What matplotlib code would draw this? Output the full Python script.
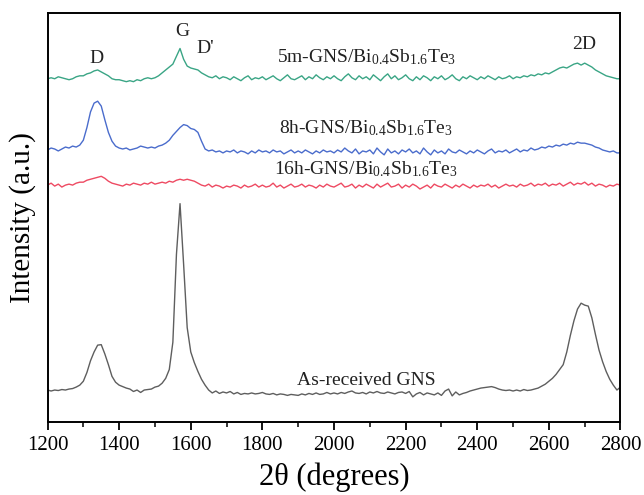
import numpy as np
import matplotlib
matplotlib.use("Agg")
import matplotlib.pyplot as plt
from matplotlib.ticker import MultipleLocator

plt.rcParams["font.family"] = ["Liberation Serif", "DejaVu Serif"]
plt.rcParams["mathtext.fontset"] = "custom"
plt.rcParams["mathtext.rm"] = "Liberation Serif"
plt.rcParams["mathtext.it"] = "Liberation Serif:italic"

# Raman shift grid (labelled 2θ on the axis), 10-unit spacing
shift = np.arange(1200, 2801, 10)

as_received = [
    21, 20, 21, 20.5, 21.5, 21, 22, 22.5, 24, 26,
    30, 39, 51, 60, 67, 67.5, 58, 47, 35, 29,
    26, 24.5, 23, 22, 19.5, 21, 18.5, 21, 21.5, 22,
    24, 25, 28, 33, 42, 70, 160, 212, 150, 85,
    60, 49, 40, 32, 26, 21, 18, 20, 17.5, 19,
    18, 19.5, 17, 18.5, 16.5, 17.5, 17, 18, 17, 17.5,
    18.5, 17, 16.5, 17.5, 16, 17, 16.5, 15.5, 16.5, 16,
    15.5, 17, 16, 17.5, 16.5, 18, 16.5, 17, 18.5, 17,
    18, 17, 18.5, 17.5, 19, 20, 18, 17.5, 18.5, 17,
    19, 18, 19.5, 18, 17.5, 19, 18, 17, 18.5, 19,
    17.5, 19.5, 14, 17, 18.5, 16, 18, 17, 16, 18,
    15.5, 20, 22, 15, 19, 16, 17.5, 18.5, 20, 21,
    22, 23, 23.5, 24, 24.5, 23.5, 22, 21, 20.5, 21,
    20, 21, 20, 21.5, 20.5, 21, 22, 23, 25, 27,
    30, 33, 37, 42, 47, 60, 77, 92, 104, 110,
    108, 107, 95, 78, 62, 50, 40, 32, 26, 21,
    24,
]

h16 = [
    231, 233, 230, 232, 229, 231, 232, 231, 233, 234,
    234, 236, 237, 238, 239, 240, 238, 235, 233, 232,
    231, 230, 232, 231, 233, 232, 231, 233, 232, 234,
    232, 233, 234, 233, 235, 234, 236, 237, 236, 237,
    236, 235, 233, 231, 230, 232, 229, 231, 230, 228,
    230, 229, 231, 230, 228, 231, 229, 230, 232, 229,
    231, 229, 230, 233, 229, 231, 228, 230, 232, 229,
    230, 232, 229, 231, 230, 228, 231, 229, 232, 230,
    229, 231, 233, 229, 230, 232, 228, 231, 229, 232,
    230, 228, 232, 229, 231, 233, 229, 230, 232, 228,
    231, 229, 232, 230, 227, 229, 231, 228, 232, 230,
    229, 232, 230, 228, 231, 229, 232, 230, 228, 231,
    229, 231, 230, 232, 229, 231, 228, 230, 232, 230,
    231, 229, 232, 230, 231, 233, 230, 232, 231, 233,
    230, 232, 231, 233, 230, 232, 234, 231, 233, 232,
    234, 231, 233, 230, 232, 231, 229, 231, 230, 232,
    231,
]

h8 = [
    267, 269, 268, 266, 268, 270, 269, 271, 270, 272,
    277, 290, 306, 315, 317, 312, 298, 285, 276, 271,
    269, 268, 269, 267, 268, 269, 271, 270, 269, 270,
    269, 271, 272, 274, 277, 282, 286, 290, 293, 292,
    289, 288, 285, 276, 268, 266, 267, 265, 266, 264,
    266, 265, 267, 264, 266, 265, 263, 266, 264, 267,
    265, 266, 264, 267, 265, 266, 263, 265, 267, 264,
    266, 264, 267, 265, 263, 266, 264, 267, 265, 266,
    264, 267, 265, 269, 266, 264, 268, 263, 266, 265,
    267, 263, 269, 265, 262, 268, 264, 266, 263, 267,
    265, 268, 264, 266, 263, 269, 265, 262, 267, 264,
    266, 263, 268, 265, 264, 267, 265, 263, 266, 264,
    267, 265, 263, 266, 268, 264, 266, 265, 267, 264,
    266, 268, 265, 267, 266, 269, 267, 268, 270, 269,
    271, 270, 272, 271, 273, 272, 274, 273, 275, 274,
    274, 273, 272, 270, 269, 267, 266, 265, 266, 264,
    264,
]

m5 = [
    340, 341, 340, 342, 341, 340, 339, 340, 342, 343,
    343, 345, 346, 348, 349, 347, 345, 343, 340, 339,
    339, 338, 337, 338, 337, 339, 338, 340, 341, 340,
    341, 343, 346, 349, 352, 355, 363, 371, 360, 353,
    351, 350, 349, 346, 344, 342, 341, 343, 340, 342,
    341, 339, 342, 340, 338, 341, 343, 339, 341, 340,
    342, 339, 341, 343, 340, 338, 341, 344, 340, 339,
    341, 343, 339, 342, 340, 344, 341, 339, 342, 340,
    343, 340, 338, 342, 345, 341, 339, 343, 340, 342,
    339, 344, 341, 338, 342, 345, 340, 343, 339, 341,
    344, 340, 338, 342, 339, 343, 341, 338, 342, 340,
    343, 339, 341, 344, 340, 338, 342, 340, 343, 341,
    339, 342, 340, 343, 341, 339, 342, 340, 341, 343,
    340, 342, 341, 343, 342, 344, 343, 345, 344, 346,
    345, 347, 349, 351, 352, 351, 353, 355, 356, 354,
    356, 354, 352, 349, 347, 345, 343, 342, 341, 340,
    340,
]

series = [
    (as_received, "#5e5e5e", "As-received GNS", 2090, 31),
    (h16, "#ee4a62", r"16h-GNS/Bi$_{0.4}$Sb$_{1.6}$Te$_3$", 2090, 247),
    (h8, "#4a6ccc", r"8h-GNS/Bi$_{0.4}$Sb$_{1.6}$Te$_3$", 2090, 289),
    (m5, "#3aa585", r"5m-GNS/Bi$_{0.4}$Sb$_{1.6}$Te$_3$", 2090, 362),
]

peak_labels = ["D", "G", "D'", "2D"]
peak_pos = [1338, 1577, 1641, 2699]
peak_y = [361, 388, 371, 375]

fig = plt.figure(figsize=(6.44, 4.95), dpi=100)
ax = fig.add_axes([0.0738, 0.148, 0.8897, 0.825])

for values, color, label, lx, ly in series:
    ax.plot(shift, values, color=color, lw=1.0)
    ax.text(lx, ly, label, ha="center", va="center", fontsize=14, color="#222222")

for name, px, py in zip(peak_labels, peak_pos, peak_y):
    ax.text(px, py, name, ha="center", va="center", fontsize=14, color="#222222")

ax.set_xlim(1200, 2800)
ax.set_ylim(-11.5, 407)
ax.xaxis.set_major_locator(MultipleLocator(200))
ax.xaxis.set_minor_locator(MultipleLocator(100))
ax.set_yticks([])
ax.tick_params(axis="x", which="major", direction="out", length=6, width=1.3,
               labelsize=15, pad=4)
ax.tick_params(axis="x", which="minor", direction="out", length=3.5, width=1.1)
for s in ax.spines.values():
    s.set_linewidth(1.4)

ax.set_xlabel("2θ (degrees)", fontsize=22, labelpad=6)
ax.set_ylabel("Intensity (a.u.)", fontsize=21, labelpad=8)

fig.savefig("out.png", dpi=100)
